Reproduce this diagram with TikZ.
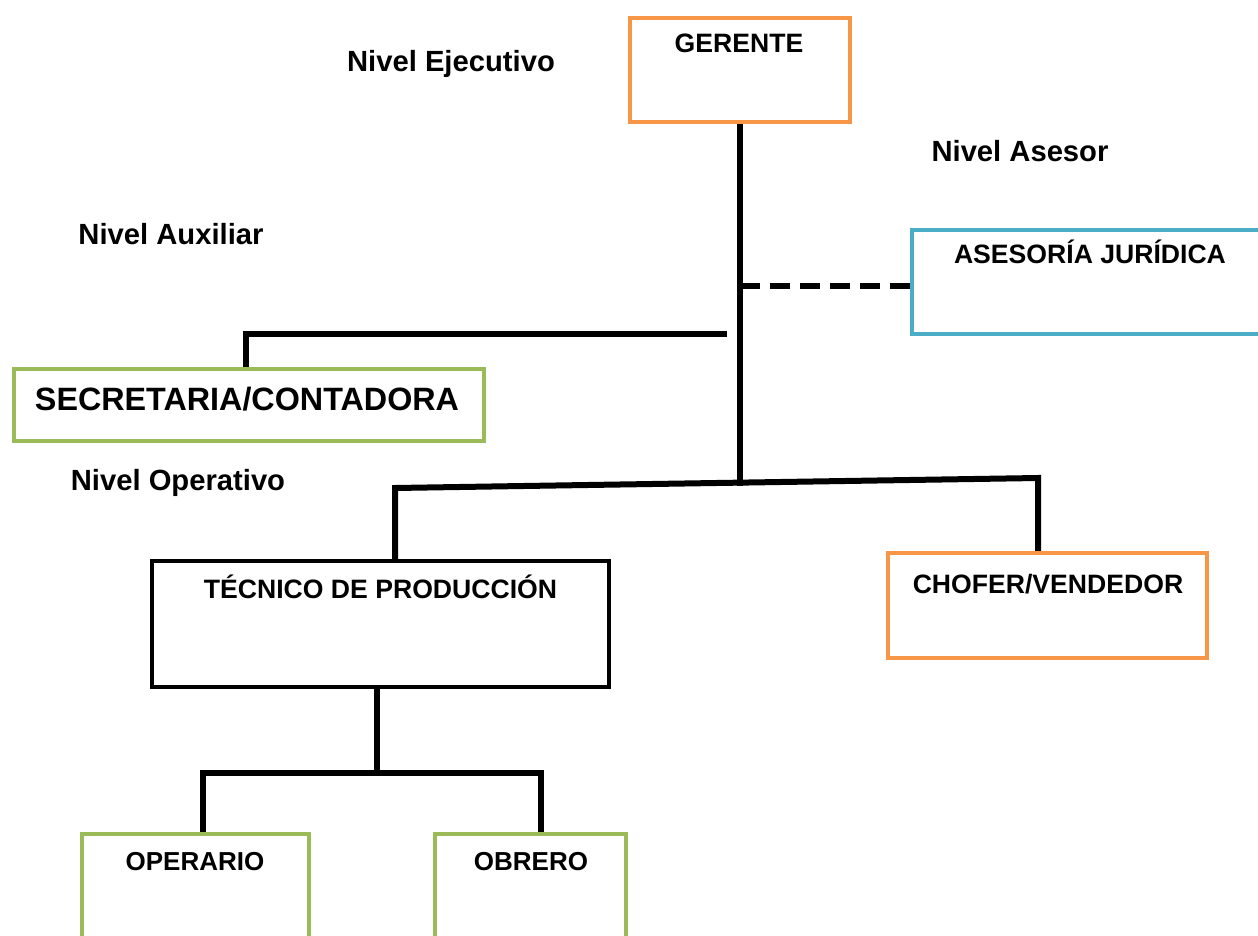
\documentclass[tikz,border=0pt]{standalone}
\usepackage{fontspec}
\setmainfont{Liberation Sans}
\usetikzlibrary{calc}
\definecolor{boxorange}{HTML}{F79646}
\definecolor{boxblue}{HTML}{4BACC6}
\definecolor{boxgreen}{HTML}{9BBB59}
\tikzset{
  box/.style={rectangle, draw, line width=4.5pt, inner sep=0pt, outer sep=0pt, fill=white},
  darkbox/.style={box, draw=black, line width=4pt},
  boxtext/.style={font=\bfseries\fontsize{26.6}{31}\selectfont, anchor=base, inner sep=0pt},
  smalltext/.style={font=\bfseries\fontsize{26}{30}\selectfont, anchor=base, inner sep=0pt},
  bigtext/.style={font=\bfseries\fontsize{32.3}{38}\selectfont, anchor=base, inner sep=0pt},
  leveltext/.style={font=\bfseries\fontsize{29.2}{35}\selectfont, anchor=base, inner sep=0pt},
  link/.style={line width=6pt, black},
  dashlink/.style={line width=6pt, black, dash pattern=on 20pt off 10pt},
}
\begin{document}
\begin{tikzpicture}[x=1pt, y=-1pt]
\useasboundingbox (0,0) rectangle (1258,936);
\clip (0,0) rectangle (1258,936);

% junction points of the connectors
\coordinate (trunkEnd) at (740,486);
\coordinate (advJoin) at (740,286);
\coordinate (auxEnd) at (727,334);
\coordinate (auxDrop) at (246,334);
\coordinate (opL) at (395,488);
\coordinate (opR) at (1038,478);
\coordinate (tecBar) at (377,773);
\coordinate (barL) at (203,773);
\coordinate (barR) at (541,773);

% connectors
\draw[link] (740,122) -- (trunkEnd);
\draw[dashlink] (advJoin) -- (912,286);
\draw[link] (auxEnd) -- (auxDrop) -- (246,369);
\draw[link] (opL |- 0,561) -- (opL) -- (opR) -- (opR |- 0,553);
\draw[link] (tecBar |- 0,687) -- (tecBar);
\draw[link] (barL |- 0,834) -- (barL) -- (barR) -- (barR |- 0,834);

% boxes
\node[box, draw=boxorange, minimum width=220pt, minimum height=104pt] (ger) at (740,70) {};
\node[box, draw=boxblue, minimum width=360pt, minimum height=104pt] (ase) at (1092,282) {};
\node[box, draw=boxgreen, minimum width=470pt, minimum height=72pt] (sec) at (249,405) {};
\node[darkbox, minimum width=457pt, minimum height=126pt] (tec) at (380.5,624) {};
\node[box, draw=boxorange, minimum width=319pt, minimum height=105pt] (cho) at (1047.5,605.5) {};
\node[box, draw=boxgreen, minimum width=227pt, minimum height=166pt] (ope) at (195.5,917) {};
\node[box, draw=boxgreen, minimum width=191pt, minimum height=166pt] (obr) at (530.5,917) {};

% box titles
\node[boxtext] (gerT) at (739,53) {GERENTE};
\node[boxtext] (aseT) at (1090,263) {ASESORÍA JURÍDICA};
\node[bigtext] (secT) at (247,410) {SECRETARIA/CONTADORA};
\node[boxtext] (tecT) at (380.5,598) {TÉCNICO DE PRODUCCIÓN};
\node[boxtext] (choT) at (1048,593) {CHOFER/VENDEDOR};
\node[smalltext] (opeT) at (195,870) {OPERARIO};
\node[smalltext] (obrT) at (531,870) {OBRERO};

% level captions
\node[leveltext] (lvEje) at (451,72) {Nivel Ejecutivo};
\node[leveltext] (lvAse) at (1020,162) {Nivel Asesor};
\node[leveltext] (lvAux) at (171,244) {Nivel Auxiliar};
\node[leveltext] (lvOpe) at (178,490) {Nivel Operativo};
\end{tikzpicture}
\end{document}
